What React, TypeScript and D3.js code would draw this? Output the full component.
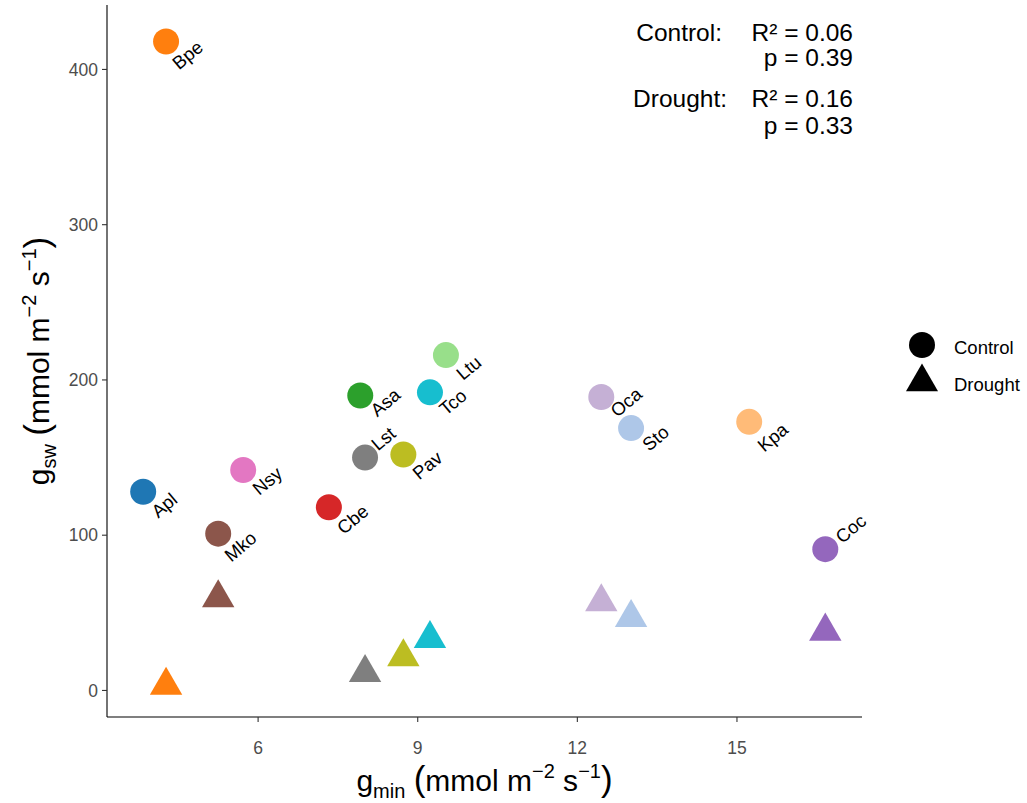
import React from "react";
import * as d3 from "d3";

// ---------- data ----------
const species = ["Apl", "Bpe", "Mko", "Nsy", "Cbe", "Asa", "Lst", "Pav", "Tco", "Ltu", "Oca", "Sto", "Kpa", "Coc"];
const gmin = [3.84, 4.27, 5.25, 5.72, 7.33, 7.92, 8.01, 8.73, 9.23, 9.53, 12.45, 13.01, 15.23, 16.66];
const gswControl = [128, 418, 101, 142, 118, 190, 150, 152, 192, 216, 189, 169, 173, 91];
const droughtSpecies = ["Bpe", "Mko", "Lst", "Pav", "Tco", "Oca", "Sto", "Coc"];
const gswDrought = [3.3, 59.6, 11.5, 21.6, 33.4, 57.0, 46.9, 38.1];
const xTicks = [6, 9, 12, 15];
const yTicks = [0, 100, 200, 300, 400];
const statsLabels = ["Control:", "Drought:"];
const statsR2 = ["0.06", "0.16"];
const statsP = ["0.39", "0.33"];
const legendLabels = ["Control", "Drought"];

// ---------- styles / layout ----------
const speciesColors: Record<string, string> = {
  Apl: "#1f77b4", Bpe: "#ff7f0e", Asa: "#2ca02c", Cbe: "#d62728", Coc: "#9467bd",
  Mko: "#8c564b", Nsy: "#e377c2", Lst: "#7f7f7f", Pav: "#bcbd22", Tco: "#17becf",
  Sto: "#aec7e8", Kpa: "#ffbb78", Ltu: "#98df8a", Oca: "#c5b0d5",
};
// label nudges (pixels) mimicking the repelled label placement
const labelNudge: Record<string, [number, number]> = {
  Apl: [15, 27], Bpe: [13, 29], Mko: [13, 29], Nsy: [16, 26], Cbe: [15, 28], Asa: [17, 22],
  Lst: [13, -6], Pav: [16, 26], Tco: [16, 24], Ltu: [17, 26], Oca: [16, 21], Sto: [18, 24],
  Kpa: [15, 31], Coc: [17, -5],
};

const W = 1027, H = 803;
const panel = { left: 107, right: 862, top: 5, bottom: 717 };
const FONT = "'Liberation Sans', Arial, Helvetica, sans-serif";

const x = d3.scaleLinear().domain([3.16, 17.35]).range([panel.left, panel.right]);
const y = d3.scaleLinear().domain([-17.1, 441.5]).range([panel.bottom, panel.top]);

const CIRCLE_R = 13;
const TRI_R = 18.7; // distance centroid -> apex
function trianglePath(cx: number, cy: number, r: number) {
  const xc = (Math.sqrt(3) / 2) * r;
  return `M${cx},${cy - r}L${cx + xc},${cy + r / 2}L${cx - xc},${cy + r / 2}Z`;
}

function UnitTitle({ sub }: { sub: string }) {
  return (
    <>
      <tspan>g</tspan>
      <tspan fontSize={20} dy={7}>{sub}</tspan>
      <tspan dy={-7}> </tspan>
      <tspan fontSize={35}>(</tspan>
      <tspan>mmol m</tspan>
      <tspan fontSize={20} dy={-13}>−2</tspan>
      <tspan dy={13}> s</tspan>
      <tspan fontSize={20} dy={-13}>−1</tspan>
      <tspan dy={13} fontSize={35}>)</tspan>
    </>
  );
}

export default function App() {
  const controlPts = species.map((s, i) => ({ s, gx: gmin[i], gy: gswControl[i] }));
  const droughtPts = droughtSpecies.map((s, i) => ({ s, gx: gmin[species.indexOf(s)], gy: gswDrought[i] }));
  const annX = 853;
  const annLabelX = [722, 727];
  const annBase = [41, 66, 107, 134];
  return (
    <svg width={W} height={H} style={{ position: "absolute", left: 0, top: 0, background: "#fff" }} fontFamily={FONT}>
      <rect x={0} y={0} width={W} height={H} fill="#fff" />
      {/* axes */}
      <line x1={panel.left} x2={panel.left} y1={panel.top} y2={panel.bottom} stroke="#000" strokeWidth={1.1} />
      <line x1={panel.left} x2={panel.right} y1={panel.bottom} y2={panel.bottom} stroke="#000" strokeWidth={1.1} />
      {yTicks.map((t) => (
        <g key={"y" + t}>
          <line x1={panel.left - 5} x2={panel.left} y1={y(t)} y2={y(t)} stroke="#333" strokeWidth={1.1} />
          <text x={panel.left - 9} y={y(t)} dy="0.36em" textAnchor="end" fontSize={17.5} fill="#4d4d4d">{t}</text>
        </g>
      ))}
      {xTicks.map((t) => (
        <g key={"x" + t}>
          <line x1={x(t)} x2={x(t)} y1={panel.bottom} y2={panel.bottom + 5} stroke="#333" strokeWidth={1.1} />
          <text x={x(t)} y={754} textAnchor="middle" fontSize={17.5} fill="#4d4d4d">{t}</text>
        </g>
      ))}
      {/* drought triangles */}
      {droughtPts.map((p) => (
        <path key={"d" + p.s} d={trianglePath(x(p.gx), y(p.gy), TRI_R)} fill={speciesColors[p.s]} />
      ))}
      {/* control circles */}
      {controlPts.map((p) => (
        <circle key={"c" + p.s} cx={x(p.gx)} cy={y(p.gy)} r={CIRCLE_R} fill={speciesColors[p.s]} />
      ))}
      {/* labels */}
      {controlPts.map((p) => {
        const [dx, dy] = labelNudge[p.s];
        const lx = x(p.gx) + dx, ly = y(p.gy) + dy;
        return (
          <text key={"l" + p.s} x={lx} y={ly} transform={`rotate(-40, ${lx}, ${ly})`} fontSize={18.5} fill="#000">{p.s}</text>
        );
      })}
      {/* stats annotation */}
      {statsLabels.map((lab, i) => (
        <g key={"s" + i} fontSize={24.5} fill="#000">
          <text x={annLabelX[i]} y={annBase[i * 2]} textAnchor="end">{lab}</text>
          <text x={annX} y={annBase[i * 2]} textAnchor="end">R² = {statsR2[i]}</text>
          <text x={annX} y={annBase[i * 2 + 1]} textAnchor="end">p = {statsP[i]}</text>
        </g>
      ))}
      {/* legend */}
      <circle cx={922} cy={345} r={13} fill="#000" />
      <path d={trianglePath(922, 382, 18.5)} fill="#000" />
      <text x={954} y={347} dy="0.36em" fontSize={18.5} fill="#000">{legendLabels[0]}</text>
      <text x={954} y={384} dy="0.36em" fontSize={18.5} fill="#000">{legendLabels[1]}</text>
      {/* x title */}
      <text x={(panel.left + panel.right) / 2} y={791} textAnchor="middle" fontSize={30} fill="#000">
        <UnitTitle sub="min" />
      </text>
      {/* y title */}
      <text transform={`translate(49, ${(panel.top + panel.bottom) / 2}) rotate(-90)`} textAnchor="middle" fontSize={30} fill="#000">
        <UnitTitle sub="sw" />
      </text>
    </svg>
  );
}
